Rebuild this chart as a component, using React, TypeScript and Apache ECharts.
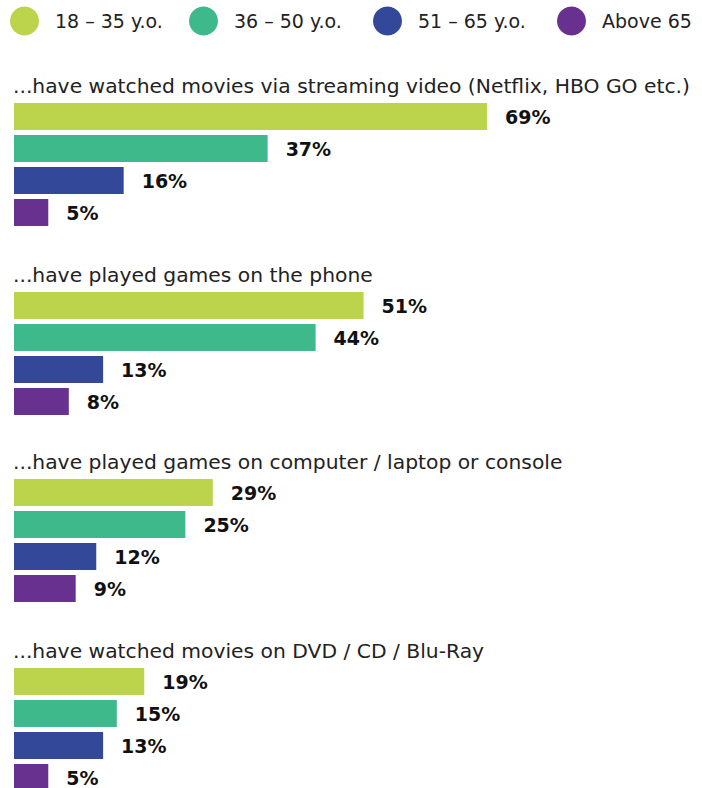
import React, { useEffect, useRef } from "react";
import * as echarts from "echarts";

const categories = [
  "...have watched movies via streaming video (Netflix, HBO GO etc.)",
  "...have played games on the phone",
  "...have played games on computer / laptop or console",
  "...have watched movies on DVD / CD / Blu-Ray",
];
const ageGroups = ["18 – 35 y.o.", "36 – 50 y.o.", "51 – 65 y.o.", "Above 65"];
const age18to35 = [69, 51, 29, 19];
const age36to50 = [37, 44, 25, 15];
const age51to65 = [16, 13, 12, 13];
const above65 = [5, 8, 9, 5];

const seriesValues = [age18to35, age36to50, age51to65, above65];
const colors = ["#bcd44b", "#3db98c", "#334899", "#68308f"];
const FONT = "DejaVu Sans";

// layout
const groupBarTops = [103, 292, 479, 668];
const ROW = 32;
const BAR = 27;
const legendLefts = [10, 189, 373, 557];

export default function App() {
  const ref = useRef<HTMLDivElement>(null);
  useEffect(() => {
    if (!ref.current) return;
    const chart = echarts.init(ref.current, undefined, { renderer: "svg" });
    const grids: any[] = [];
    const xAxes: any[] = [];
    const yAxes: any[] = [];
    const series: any[] = [];
    categories.forEach((_, g) => {
      grids.push({
        left: 14,
        width: 685.5,
        top: groupBarTops[g] - (ROW - BAR) / 2,
        height: ROW * ageGroups.length,
      });
      xAxes.push({ type: "value", gridIndex: g, min: 0, max: 100, show: false });
      yAxes.push({
        type: "category",
        gridIndex: g,
        data: ageGroups,
        inverse: true,
        show: false,
      });
      ageGroups.forEach((name, k) => {
        series.push({
          type: "bar",
          name,
          xAxisIndex: g,
          yAxisIndex: g,
          data: ageGroups.map((_, j) => (j === k ? seriesValues[k][g] : "-")),
          barWidth: BAR,
          barGap: "-100%",
          itemStyle: { color: colors[k] },
          label: {
            show: true,
            position: "right",
            distance: 18,
            formatter: "{c}%",
            fontFamily: FONT,
            fontWeight: "bold",
            fontSize: 19,
            color: "#111",
          },
        });
      });
    });
    chart.setOption({
      animation: false,
      color: colors,
      title: categories.map((t, g) => ({
        text: t,
        left: 13,
        top: groupBarTops[g] - 27,
        padding: 0,
        textStyle: {
          fontFamily: FONT,
          fontSize: 20.3,
          fontWeight: "normal",
          color: "#222",
        },
      })),
      legend: ageGroups.map((name, i) => ({
        data: [name],
        left: legendLefts[i],
        top: 6.5,
        padding: 0,
        icon: "circle",
        itemWidth: 29,
        itemHeight: 29,
        selectedMode: false,
        textStyle: {
          fontFamily: FONT,
          fontSize: 19,
          color: "#222",
          padding: [0, 0, 0, 11],
        },
      })),
      grid: grids,
      xAxis: xAxes,
      yAxis: yAxes,
      series,
    });
    return () => chart.dispose();
  }, []);
  return (
    <div
      style={{ position: "fixed", left: 0, top: 0, width: 702, height: 788, overflow: "hidden", background: "#fff" }}
    >
      <div ref={ref} style={{ width: 702, height: 810 }} />
    </div>
  );
}
